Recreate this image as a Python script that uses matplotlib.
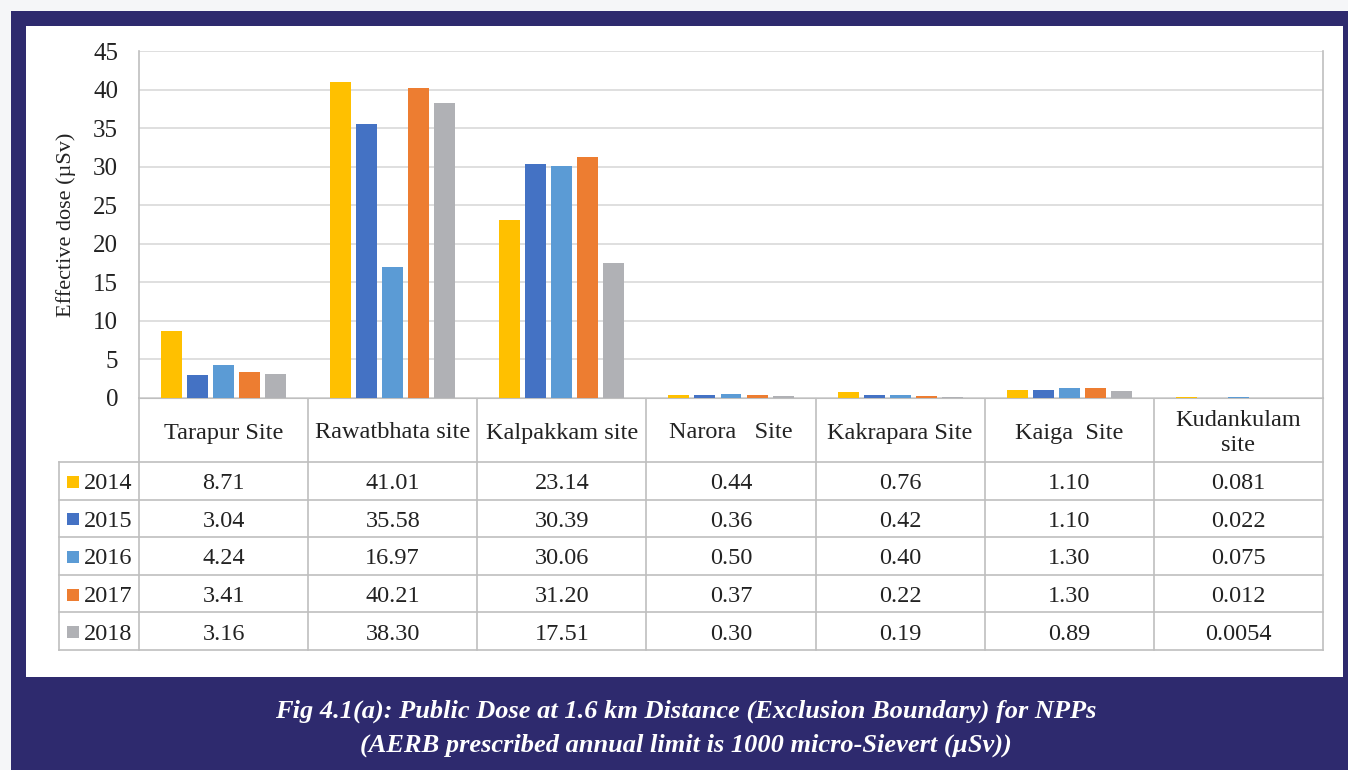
import numpy as np
import matplotlib
matplotlib.use('Agg')
import matplotlib.pyplot as plt
from matplotlib.patches import Rectangle

# Data
sites = ['Tarapur Site', 'Rawatbhata site', 'Kalpakkam site', 'Narora   Site',
         'Kakrapara Site', 'Kaiga  Site', 'Kudankulam\nsite']
years = ['2014', '2015', '2016', '2017', '2018']
dose_2014 = [8.71, 41.01, 23.14, 0.44, 0.76, 1.10, 0.081]
dose_2015 = [3.04, 35.58, 30.39, 0.36, 0.42, 1.10, 0.022]
dose_2016 = [4.24, 16.97, 30.06, 0.50, 0.40, 1.30, 0.075]
dose_2017 = [3.41, 40.21, 31.20, 0.37, 0.22, 1.30, 0.012]
dose_2018 = [3.16, 38.30, 17.51, 0.30, 0.19, 0.89, 0.0054]
labels_2014 = ['8.71', '41.01', '23.14', '0.44', '0.76', '1.10', '0.081']
labels_2015 = ['3.04', '35.58', '30.39', '0.36', '0.42', '1.10', '0.022']
labels_2016 = ['4.24', '16.97', '30.06', '0.50', '0.40', '1.30', '0.075']
labels_2017 = ['3.41', '40.21', '31.20', '0.37', '0.22', '1.30', '0.012']
labels_2018 = ['3.16', '38.30', '17.51', '0.30', '0.19', '0.89', '0.0054']
series = [dose_2014, dose_2015, dose_2016, dose_2017, dose_2018]
series_labels = [labels_2014, labels_2015, labels_2016, labels_2017, labels_2018]
colors = ['#FFC000', '#4472C4', '#5B9BD5', '#ED7D31', '#B0B1B5']

caption1 = 'Fig 4.1(a): Public Dose at 1.6 km Distance (Exclusion Boundary) for NPPs'
caption2 = '(AERB prescribed annual limit is 1000 micro-Sievert (\u00b5Sv))'

W, H = 1348, 770
navy = '#2E2A6E'
grid_c = '#D9D9D9'
line_c = '#BFBFBF'
txt_c = '#222222'
serif = 'Liberation Serif'

fig = plt.figure(figsize=(W / 100, H / 100), dpi=100)
fig.patch.set_facecolor('#F5F6F8')

# full-figure pixel axes for frame, table and caption
bg = fig.add_axes([0, 0, 1, 1], zorder=0)
bg.set_xlim(0, W)
bg.set_ylim(H, 0)
bg.axis('off')
bg.add_patch(Rectangle((11, 11), W - 11, H - 11, facecolor=navy, edgecolor='none'))
bg.add_patch(Rectangle((26, 26), 1343 - 26, 677 - 26, facecolor='white', edgecolor='none'))

# plot area geometry (pixels)
px_left, px_right, px_top, px_zero = 139, 1323, 51, 398
ax = fig.add_axes([px_left / W, (H - px_zero) / H, (px_right - px_left) / W,
                   (px_zero - px_top) / H], zorder=1)
ax.set_facecolor('none')

n = len(sites)
x = np.arange(n)
bw = 0.124
step = 0.154
for j, vals in enumerate(series):
    ax.bar(x + (j - 2) * step, vals, width=bw, color=colors[j], zorder=3)

ax.set_xlim(-0.5, n - 0.5)
ax.set_ylim(0, 45)
ax.set_yticks(np.arange(0, 46, 5))
ax.set_yticklabels([str(v) for v in range(0, 46, 5)], fontsize=18, family=serif,
                   color=txt_c)
ax.tick_params(axis='y', length=0, pad=15)
ax.set_xticks([])
ax.grid(axis='y', color=grid_c, linewidth=1.2, zorder=0)
for s in ['left', 'right']:
    ax.spines[s].set_color(line_c)
    ax.spines[s].set_linewidth(1.2)
ax.spines['top'].set_visible(False)
ax.spines['bottom'].set_color(line_c)
ax.set_ylabel('Effective dose (\u00b5Sv)', fontsize=16, family=serif, color=txt_c,
              labelpad=12)

# data table
col_w = (px_right - px_left) / n
head_bot = 462
row_h = (650 - head_bot) / len(years)
tab_left = 59
lw = 1.2
dy = 3  # text sits slightly below cell centre
bg.plot([px_left, px_right], [px_zero, px_zero], color=line_c, lw=lw, zorder=2)
for r in range(len(years) + 1):
    yy = head_bot + r * row_h
    bg.plot([tab_left, px_right], [yy, yy], color=line_c, lw=lw, zorder=2)
for c in range(n + 1):
    xx = px_left + c * col_w
    bg.plot([xx, xx], [px_zero, 650], color=line_c, lw=lw, zorder=2)
bg.plot([tab_left, tab_left], [head_bot, 650], color=line_c, lw=lw, zorder=2)

for c, name in enumerate(sites):
    bg.text(px_left + (c + 0.5) * col_w, (px_zero + head_bot) / 2 + dy, name,
            ha='center', va='center', fontsize=17.5, family=serif, color=txt_c,
            linespacing=1.3)
for r, (yr, labs) in enumerate(zip(years, series_labels)):
    yc = head_bot + (r + 0.5) * row_h
    bg.add_patch(Rectangle((67, yc - 5), 12, 12, facecolor=colors[r], edgecolor='none'))
    bg.text(84, yc + dy, yr, ha='left', va='center', fontsize=17.5, family=serif,
            color=txt_c)
    for c, lab in enumerate(labs):
        bg.text(px_left + (c + 0.5) * col_w, yc + dy, lab, ha='center', va='center',
                fontsize=17.5, family=serif, color=txt_c)

# caption
bg.text(686, 711, caption1, ha='center', va='center', fontsize=19, family=serif,
        style='italic', weight='bold', color='white')
bg.text(686, 745, caption2, ha='center', va='center', fontsize=19, family=serif,
        style='italic', weight='bold', color='white')

fig.savefig('out.png', dpi=100, facecolor=fig.get_facecolor())
